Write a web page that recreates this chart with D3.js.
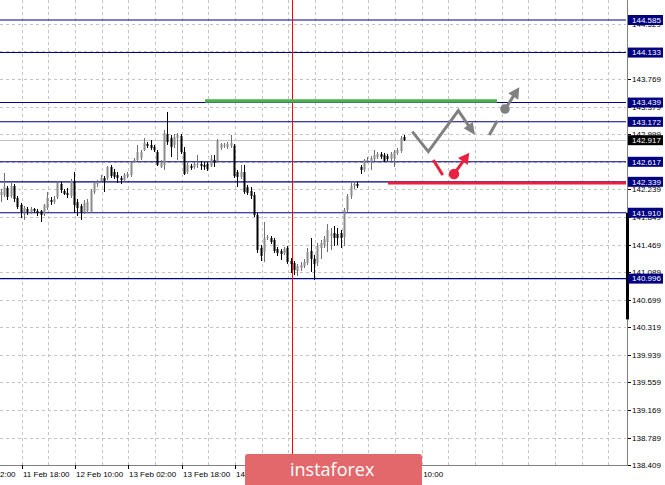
<!DOCTYPE html>
<html><head><meta charset="utf-8">
<script src="https://cdn.jsdelivr.net/npm/d3@7"></script>
<style>body{margin:0;background:#fff;} svg{display:block;}</style>
</head><body>
<svg id="c" width="665" height="485"></svg>
<script>
const opens = [142.157,142.157,142.254,142.143,142.282,142.115,142.018,141.921,141.962,141.921,141.962,141.935,141.935,141.893,141.976,142.087,142.060,142.129,142.309,142.212,142.185,142.143,142.337,142.060,142.004,141.921,141.935,141.921,142.198,142.309,142.351,142.393,142.393,142.545,142.476,142.434,142.393,142.365,142.420,142.434,142.615,142.642,142.670,142.781,142.864,142.851,142.823,142.753,142.545,142.573,143.003,142.948,142.851,142.948,142.976,142.753,142.476,142.559,142.545,142.573,142.587,142.573,142.587,142.559,142.642,142.629,142.809,142.837,142.823,142.837,142.837,142.476,142.407,142.476,142.268,142.212,142.157,141.879,141.421,141.365,141.560,141.560,141.532,141.407,141.379,141.351,141.421,141.240,141.213,141.101,141.143,141.171,141.213,141.379,141.268,141.213,141.421,141.462,141.504,141.587,141.629,141.615,141.629,141.573,141.948,142.143,142.282,142.309,142.545,142.504,142.629,142.615,142.656,142.684,142.726,142.712,142.698,142.656,142.670,142.740,142.767,142.962];
const highs = [142.240,142.462,142.282,142.323,142.309,142.143,142.046,142.004,141.990,141.990,141.976,141.962,141.948,142.032,142.198,142.129,142.143,142.351,142.337,142.240,142.254,142.379,142.476,142.101,142.032,142.087,142.101,142.240,142.351,142.365,142.434,142.420,142.559,142.573,142.518,142.476,142.420,142.462,142.476,142.629,142.670,142.851,142.781,142.948,142.892,142.920,142.851,142.781,142.642,143.059,143.309,142.989,143.003,143.017,143.003,142.823,142.601,142.587,142.615,142.712,142.629,142.615,142.615,142.712,142.712,142.934,142.878,142.878,142.892,142.989,142.864,142.504,142.573,142.573,142.296,142.268,142.198,141.907,141.462,141.782,141.601,141.587,141.560,141.435,141.407,141.435,141.449,141.282,141.240,141.199,141.226,141.268,141.421,141.560,141.324,141.490,141.532,141.587,141.754,141.698,141.726,141.698,141.671,141.976,142.171,142.323,142.351,142.337,142.573,142.656,142.684,142.698,142.781,142.753,142.753,142.740,142.726,142.753,142.781,142.809,142.976,142.989];
const lows = [142.060,142.129,142.087,142.115,142.060,141.962,141.837,141.810,141.879,141.893,141.907,141.865,141.782,141.865,141.948,142.018,142.032,142.101,142.185,142.157,142.115,142.115,141.907,141.865,141.810,141.893,141.907,141.907,142.171,142.268,142.337,142.198,142.365,142.393,142.379,142.323,142.309,142.337,142.393,142.407,142.601,142.629,142.642,142.767,142.809,142.781,142.753,142.559,142.531,142.504,142.851,142.684,142.809,142.642,142.726,142.434,142.448,142.504,142.518,142.531,142.504,142.504,142.490,142.545,142.545,142.615,142.781,142.809,142.795,142.809,142.393,142.268,142.379,142.171,142.157,142.101,141.851,141.351,141.240,141.226,141.532,141.476,141.351,141.310,141.254,141.324,141.199,141.074,141.046,141.032,141.101,141.143,141.185,141.087,140.976,141.171,141.268,141.421,141.365,141.393,141.449,141.462,141.421,141.449,141.921,142.101,142.240,142.254,142.448,142.476,142.601,142.504,142.629,142.656,142.656,142.615,142.629,142.629,142.545,142.712,142.740,142.906];
const closes = [142.198,142.268,142.129,142.282,142.101,141.990,141.921,141.976,141.921,141.962,141.935,141.907,141.879,142.018,142.115,142.060,142.101,142.323,142.226,142.171,142.157,142.351,142.018,141.976,141.907,142.046,142.060,142.212,142.323,142.337,142.393,142.351,142.545,142.420,142.407,142.393,142.365,142.434,142.448,142.601,142.642,142.753,142.753,142.878,142.837,142.809,142.781,142.573,142.615,143.017,142.892,142.823,142.962,142.989,142.753,142.448,142.573,142.531,142.587,142.587,142.559,142.545,142.518,142.656,142.601,142.906,142.864,142.851,142.864,142.878,142.420,142.407,142.476,142.198,142.185,142.143,141.879,141.393,141.310,141.560,141.573,141.504,141.379,141.351,141.338,141.407,141.226,141.199,141.115,141.171,141.185,141.226,141.365,141.268,141.199,141.449,141.490,141.546,141.671,141.615,141.560,141.560,141.560,141.948,142.143,142.282,142.309,142.282,142.504,142.642,142.642,142.670,142.712,142.726,142.684,142.629,142.656,142.726,142.753,142.781,142.948,142.917];

const priceTicks = [138.409,138.789,139.169,139.559,139.939,140.319,140.699,141.089,141.469,141.849,142.239,142.619,142.999,143.379,143.769,144.149,144.529];
const levelLines = [144.585,144.133,143.439,143.172,142.617,142.339,141.910,140.996];
const currentPrice = 142.917;
const timeTickBars = [-10,6,22,38,54,70,86,102,118];
const timeTickLabels = ["11 Feb 02:00","11 Feb 18:00","12 Feb 10:00","13 Feb 02:00","13 Feb 18:00","14 Feb 10:00","15 Feb 02:00","15 Feb 18:00","18 Feb 10:00"];
const vLineBar = 87;
const greenLevel = [61, 148.6, 143.462];
const redLevel = [115.9, 187.3, 142.322];
const grayZigzag = [[123.19,143.035],[127.99,142.758],[136.99,143.327],[142.0,142.989]];
const grayDash = [[146.29,142.989],[148.69,143.188]];
const grayBallArrow = [[151.0,143.350],[155.29,143.651]];
const redDash = [[129.49,142.642],[132.31,142.434]];
const redBallArrow = [[135.7,142.448],[140.29,142.744]];
const scrollMark = [141.910, 140.43];

const W = 626, H = 465;
const svg = d3.select("#c");
const x = d3.scaleLinear().domain([-0.5, 187.3]).range([0, W]);
const y = d3.scaleLinear().domain([138.409, 144.585]).range([H, 20]);
const FONT = "'Liberation Sans', Arial, sans-serif";

svg.append("defs").append("clipPath").attr("id","pc").append("rect").attr("x",0).attr("y",0).attr("width",W).attr("height",H);
const plot = svg.append("g").attr("clip-path","url(#pc)");

// vertical grid
const vgrid = d3.range(-10, 190, 8);
plot.selectAll(".vg").data(vgrid).enter().append("line")
  .attr("x1", d => Math.round(x(d)) + 0.5).attr("x2", d => Math.round(x(d)) + 0.5)
  .attr("y1", 0).attr("y2", H)
  .attr("stroke", "#c4c4c4").attr("stroke-dasharray", "3,3");
// horizontal grid
plot.selectAll(".hg").data(priceTicks).enter().append("line")
  .attr("x1", 0).attr("x2", W)
  .attr("y1", d => Math.round(y(d)) + 0.5).attr("y2", d => Math.round(y(d)) + 0.5)
  .attr("stroke", "#c4c4c4").attr("stroke-dasharray", "3,3");

// current price line
plot.append("line").attr("x1",0).attr("x2",W)
  .attr("y1", Math.round(y(currentPrice))+0.5).attr("y2", Math.round(y(currentPrice))+0.5)
  .attr("stroke","#c0c0c0");

// level lines
plot.selectAll(".lv").data(levelLines).enter().append("line")
  .attr("x1",0).attr("x2",W)
  .attr("y1", d => y(d)).attr("y2", d => y(d))
  .attr("stroke","#000080").attr("stroke-width",1.1);

// red vertical
plot.append("line").attr("x1", Math.round(x(vLineBar))+0.5).attr("x2", Math.round(x(vLineBar))+0.5)
  .attr("y1",0).attr("y2",H).attr("stroke","#ff0000");

// candles
const idx = d3.range(opens.length);
const cg = plot.append("g");
idx.forEach(i => {
  const cx = Math.round(x(i));
  const bull = closes[i] >= opens[i];
  const col = bull ? "#8c8c8c" : "#000";
  cg.append("line").attr("x1", cx - 0.5).attr("x2", cx - 0.5)
    .attr("y1", y(highs[i])).attr("y2", y(lows[i]))
    .attr("stroke", bull ? "#707070" : "#000").attr("stroke-width",1);
  const top = y(Math.max(opens[i], closes[i])), bot = y(Math.min(opens[i], closes[i]));
  cg.append("rect").attr("x", cx - 1.5).attr("width", 2)
    .attr("y", top).attr("height", Math.max(1, bot - top)).attr("fill", col);
});

// green & red levels
plot.append("line").attr("x1", x(greenLevel[0])).attr("x2", x(greenLevel[1]))
  .attr("y1", y(greenLevel[2])).attr("y2", y(greenLevel[2]))
  .attr("stroke","#4caf50").attr("stroke-width",3.5);
plot.append("line").attr("x1", x(redLevel[0])).attr("x2", x(redLevel[1]))
  .attr("y1", y(redLevel[2])).attr("y2", y(redLevel[2]))
  .attr("stroke","#e8213f").attr("stroke-width",3);

function headPath(p1, p2, len, hw) {
  const dx = p2[0]-p1[0], dy = p2[1]-p1[1], L = Math.hypot(dx,dy), ux = dx/L, uy = dy/L;
  const bx = p2[0]-ux*len, by = p2[1]-uy*len;
  return {d: `M${p2[0]},${p2[1]}L${bx-uy*hw},${by+ux*hw}L${bx+uy*hw},${by-ux*hw}Z`, base:[bx+ux*1, by+uy*1]};
}
const P = d => [x(d[0]), y(d[1])];
const line = d3.line();

// gray zigzag
{
  const pts = grayZigzag.map(P);
  const h = headPath(pts[pts.length-2], pts[pts.length-1], 12, 5.5);
  const shaft = pts.slice(0,-1).concat([h.base]);
  plot.append("path").attr("d", line(shaft)).attr("fill","none").attr("stroke","#808080").attr("stroke-width",3).attr("stroke-linejoin","miter");
  plot.append("path").attr("d", h.d).attr("fill","#808080");
}
plot.append("path").attr("d", line(grayDash.map(P))).attr("stroke","#808080").attr("stroke-width",3).attr("fill","none");
{
  const a = grayBallArrow.map(P);
  const h = headPath(a[0], a[1], 11, 6);
  plot.append("path").attr("d", line([a[0], h.base])).attr("stroke","#808080").attr("stroke-width",3);
  plot.append("path").attr("d", h.d).attr("fill","#808080");
  plot.append("circle").attr("cx", a[0][0]).attr("cy", a[0][1]).attr("r", 4.8).attr("fill","#808080");
}
// red arrows
plot.append("path").attr("d", line(redDash.map(P))).attr("stroke","#e8213f").attr("stroke-width",3).attr("fill","none");
{
  const a = redBallArrow.map(P);
  const h = headPath(a[0], a[1], 11, 6);
  plot.append("path").attr("d", line([a[0], h.base])).attr("stroke","#e8213f").attr("stroke-width",3);
  plot.append("path").attr("d", h.d).attr("fill","#e8213f");
  plot.append("circle").attr("cx", a[0][0]).attr("cy", a[0][1]).attr("r", 5.2).attr("fill","#e8213f");
}

// axes
const axisG = svg.append("g");
axisG.append("line").attr("x1", W+1.5).attr("x2", W+1.5).attr("y1",0).attr("y2",H+1).attr("stroke","#808080");
axisG.append("line").attr("x1", 0).attr("x2", W+2).attr("y1",H+0.5).attr("y2",H+0.5).attr("stroke","#808080");
axisG.append("line").attr("x1", W+1.5).attr("x2", W+1.5).attr("y1", y(scrollMark[0])).attr("y2", y(scrollMark[1]))
  .attr("stroke","#000").attr("stroke-width",3);

// right ticks and labels
priceTicks.forEach(v => {
  const yy = Math.round(y(v)) + 0.5;
  axisG.append("line").attr("x1", W+2).attr("x2", W+5).attr("y1", yy).attr("y2", yy).attr("stroke","#000");
  axisG.append("text").attr("x", W+6).attr("y", yy).attr("dy","0.35em")
    .attr("font-family", FONT).attr("font-size", 8).attr("fill","#000").text(v.toFixed(3));
});
levelLines.forEach(v => {
  const yy = y(v);
  axisG.append("rect").attr("x", W+2).attr("y", yy-5).attr("width", 35).attr("height", 10).attr("fill","#000080");
  axisG.append("text").attr("x", W+6).attr("y", yy).attr("dy","0.35em")
    .attr("font-family", FONT).attr("font-size", 8).attr("fill","#fff").text(v.toFixed(3));
});
{
  const yy = y(currentPrice);
  axisG.append("rect").attr("x", W+2).attr("y", yy-5).attr("width", 35).attr("height", 10).attr("fill","#000");
  axisG.append("text").attr("x", W+6).attr("y", yy).attr("dy","0.35em")
    .attr("font-family", FONT).attr("font-size", 8).attr("fill","#fff").text(currentPrice.toFixed(3));
}

// bottom ticks & labels
timeTickBars.forEach((b, k) => {
  const xx = Math.round(x(b)) + 0.5;
  axisG.append("line").attr("x1", xx).attr("x2", xx).attr("y1", H).attr("y2", H+4).attr("stroke","#000");
  axisG.append("text").attr("x", xx + 0.5).attr("y", 477)
    .attr("font-family", FONT).attr("font-size", 8).attr("fill","#000").text(timeTickLabels[k]);
});

// logo
const logo = svg.append("g");
logo.append("rect").attr("x", 245).attr("y", 454).attr("width", 177).attr("height", 34).attr("rx", 3).attr("fill", "#e2686c");
logo.append("text").attr("x", 290).attr("y", 476).attr("font-family", "'Open Sans', sans-serif")
  .attr("font-size", 18).attr("fill", "#fff").text("instaforex");
</script>
</body></html>
